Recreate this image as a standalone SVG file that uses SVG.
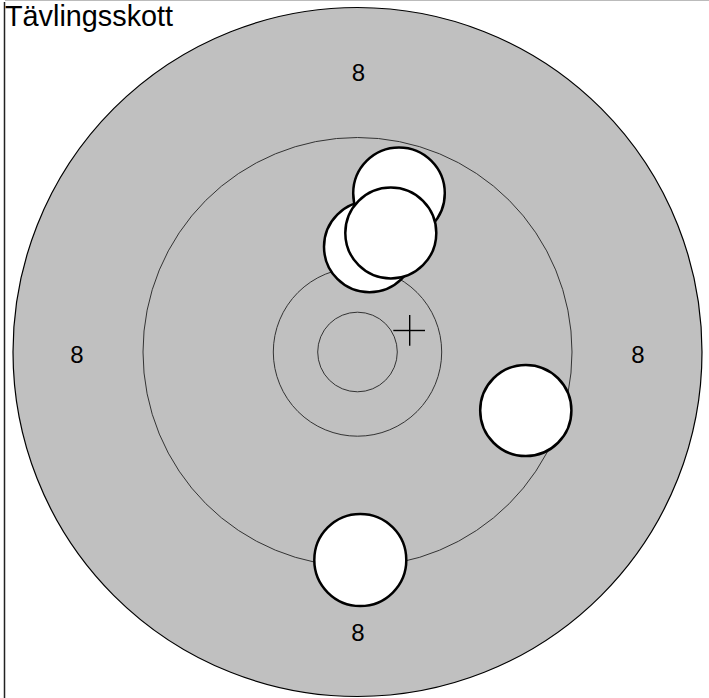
<svg xmlns="http://www.w3.org/2000/svg" width="709" height="698" viewBox="0 0 709 698">
<style>
.ring{fill:none;stroke:#333;stroke-width:1}
.shot{fill:#fff;stroke:#000;stroke-width:2.5}
.lbl{font-family:"Liberation Sans",Arial,sans-serif;font-size:24px;fill:#000;text-anchor:middle}
.title{font-family:"Liberation Sans",Arial,sans-serif;font-size:28.8px;fill:#000}
</style>
<rect x="0" y="0" width="709" height="698" fill="#fff"/>
<line x1="5" y1="0.5" x2="709" y2="0.5" stroke="#bbb" stroke-width="1"/>
<line x1="4.5" y1="2" x2="4.5" y2="698" stroke="#222" stroke-width="1.5"/>
<g id="target">
<circle cx="357.5" cy="352" r="344.5" fill="#c0c0c0" stroke="#000" stroke-width="1.2"/>
<circle class="ring" cx="357.5" cy="352" r="214.5"/>
<circle class="ring" cx="357.5" cy="352" r="84.2"/>
<circle class="ring" cx="357.5" cy="352" r="39.8"/>
</g>
<g id="labels">
<text class="lbl" x="358.5" y="81">8</text>
<text class="lbl" x="77" y="363">8</text>
<text class="lbl" x="638" y="363">8</text>
<text class="lbl" x="358" y="641">8</text>
</g>
<g id="shots">
<circle class="shot" cx="369.5" cy="246.8" r="45.5"/>
<circle class="shot" cx="399" cy="193.3" r="45.8"/>
<circle class="shot" cx="390.8" cy="233" r="45.5"/>
<circle class="shot" cx="525.8" cy="410.5" r="45.6"/>
<circle class="shot" cx="360.3" cy="560" r="46"/>
</g>
<g id="cross" stroke="#000" stroke-width="1.4">
<line x1="393.3" y1="330.5" x2="425" y2="330.5"/>
<line x1="409.7" y1="315" x2="409.7" y2="345.7"/>
</g>
<text class="title" x="5" y="25.5">Tävlingsskott</text>
</svg>
